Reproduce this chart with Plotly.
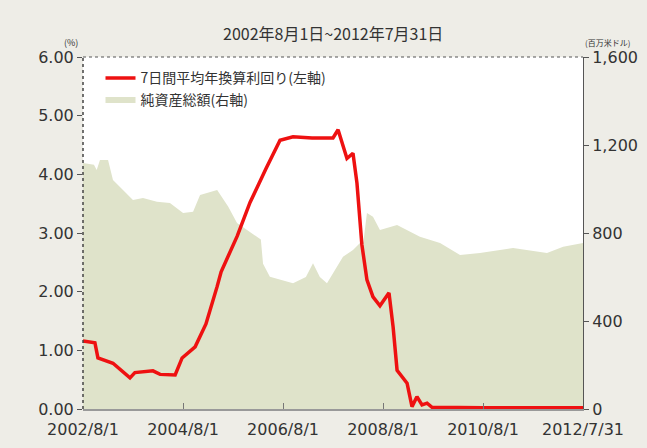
import plotly.graph_objects as go

# Red line: 7-day average annualized yield (%) - left axis
yield_dates = ["2002-08-01", "2002-10-27", "2002-11-18", "2003-03-08", "2003-07-10", "2003-08-15",
               "2003-12-25", "2004-02-15", "2004-06-04", "2004-07-25", "2004-10-28", "2005-01-15",
               "2005-04-07", "2005-05-06", "2005-09-01", "2005-12-03", "2006-03-30", "2006-07-10",
               "2006-10-13", "2007-03-01", "2007-08-01", "2007-09-07", "2007-11-11", "2007-12-25",
               "2008-01-23", "2008-02-28", "2008-04-05", "2008-05-19", "2008-07-09", "2008-09-13",
               "2008-10-13", "2008-11-11", "2009-01-23", "2009-02-28", "2009-04-05", "2009-05-12",
               "2009-06-18", "2009-07-24", "2010-08-01", "2011-08-01", "2012-07-31"]
yield_values = [1.16, 1.13, 0.87, 0.78, 0.53, 0.62,
                0.65, 0.59, 0.58, 0.87, 1.06, 1.45,
                2.09, 2.34, 2.95, 3.52, 4.10, 4.58,
                4.64, 4.62, 4.62, 4.76, 4.27, 4.36,
                3.85, 2.80, 2.20, 1.91, 1.76, 1.98,
                1.40, 0.66, 0.44, 0.04, 0.21, 0.07,
                0.10, 0.03, 0.02, 0.02, 0.02]

# Shaded area: net assets (million USD) - right axis
asset_dates = ["2002-08-01", "2002-10-20", "2002-11-09", "2002-12-03", "2003-01-31", "2003-03-08",
               "2003-05-20", "2003-08-01", "2003-10-13", "2004-01-23", "2004-04-27", "2004-08-01",
               "2004-10-13", "2004-12-03", "2005-04-07", "2005-06-26", "2005-08-30", "2005-11-11",
               "2006-01-23", "2006-02-20", "2006-03-08", "2006-04-27", "2006-10-13", "2007-01-15",
               "2007-03-08", "2007-04-27", "2007-06-18", "2007-10-13", "2007-12-25", "2008-02-14",
               "2008-03-10", "2008-04-05", "2008-05-19", "2008-07-09", "2008-11-11", "2009-04-27",
               "2009-09-21", "2010-02-14", "2010-07-09", "2011-03-08", "2011-11-11", "2012-03-08",
               "2012-07-31"]
asset_values = [1118, 1110, 1086, 1132, 1132, 1041,
                995, 950, 959, 942, 936, 891,
                897, 973, 995, 920, 845, 814,
                783, 770, 660, 601, 572, 600,
                663, 600, 572, 692, 723, 754,
                760, 891, 874, 814, 836, 783,
                754, 700, 709, 732, 709, 738,
                754]

x_tick_vals = ["2002-08-01", "2004-08-01", "2006-08-01", "2008-08-01", "2010-08-01", "2012-07-31"]
x_tick_text = ["2002/8/1", "2004/8/1", "2006/8/1", "2008/8/1", "2010/8/1", "2012/7/31"]
left_ticks = [0, 1, 2, 3, 4, 5, 6]
right_ticks = [0, 400, 800, 1200, 1600]
right_tick_text = ["0", "400", "800", "1,200", "1,600"]

FONT = "Noto Sans CJK JP"
TICKFONT = "DejaVu Sans"
TXT = "#333333"
BG = "#eeede7"

fig = go.Figure()
fig.add_trace(go.Scatter(
    x=asset_dates, y=asset_values, mode="lines", line=dict(width=0),
    fill="tozeroy", fillcolor="#dfe3ca", name="純資産総額(右軸)", yaxis="y", legendrank=2))
fig.add_trace(go.Scatter(
    x=yield_dates, y=yield_values, mode="lines", line=dict(color="#ee1111", width=3.5),
    name="7日間平均年換算利回り(左軸)", yaxis="y2", legendrank=1))

fig.update_layout(
    width=647, height=448,
    margin=dict(l=83, r=64, t=57, b=39, autoexpand=False),
    paper_bgcolor=BG, plot_bgcolor="#ffffff",
    font=dict(family=FONT, size=12, color=TXT),
    showlegend=True,
    legend=dict(x=0.035, y=0.985, xanchor="left", yanchor="top", bgcolor="rgba(0,0,0,0)",
                font=dict(size=14, color=TXT, family=FONT), itemwidth=30, tracegroupgap=0),
    xaxis=dict(type="date", range=["2002-08-01", "2012-07-31"], tickvals=x_tick_vals,
               ticktext=x_tick_text, ticks="inside", ticklen=6, tickcolor="#777777",
               ticklabelstandoff=5, automargin=False,
               showgrid=False, showline=True, linecolor="#999999", linewidth=2, mirror=False,
               tickfont=dict(size=16, color=TXT, family=TICKFONT), zeroline=False),
    yaxis=dict(side="right", range=[0, 1600], tickvals=right_ticks, ticktext=right_tick_text,
               ticks="outside", ticklen=5, tickcolor="#555555", showgrid=False, zeroline=False,
               showline=True, linecolor="#555555", linewidth=1, automargin=False,
               tickfont=dict(size=16, color=TXT, family=TICKFONT)),
    yaxis2=dict(side="left", overlaying="y", range=[0, 6], tickvals=left_ticks, tickformat=".2f",
                ticks="outside", ticklen=5, tickcolor="#555555", showgrid=False, zeroline=False,
                showline=False, automargin=False,
                tickfont=dict(size=16, color=TXT, family=TICKFONT)),
    shapes=[
        dict(type="line", xref="paper", yref="paper", x0=0, x1=1, y0=1, y1=1,
             line=dict(color="#555555", width=1, dash="dot")),
        dict(type="line", xref="paper", yref="paper", x0=0, x1=0, y0=0, y1=1,
             line=dict(color="#444444", width=1.5, dash="dot")),
    ],
    annotations=[
        dict(text="2002年8月1日~2012年7月31日", xref="paper", yref="paper", x=0.5, y=1.0,
             xanchor="center", yanchor="middle", yshift=24, showarrow=False,
             font=dict(size=16, color=TXT)),
        dict(text="(%)", xref="paper", yref="paper", x=0, y=1.0, xanchor="right", yanchor="middle",
             xshift=-3, yshift=15, showarrow=False, font=dict(size=9, color=TXT)),
        dict(text="(百万米ドル)", xref="paper", yref="paper", x=1, y=1.0, xanchor="left",
             yanchor="middle", xshift=0, yshift=15, showarrow=False, font=dict(size=8, color=TXT)),
    ],
)

fig.write_html(
    "out.html",
    config={"displayModeBar": False},
    post_script="document.body.style.margin='0';document.body.style.overflow='hidden';"
                "document.body.style.background='" + BG + "';",
)
